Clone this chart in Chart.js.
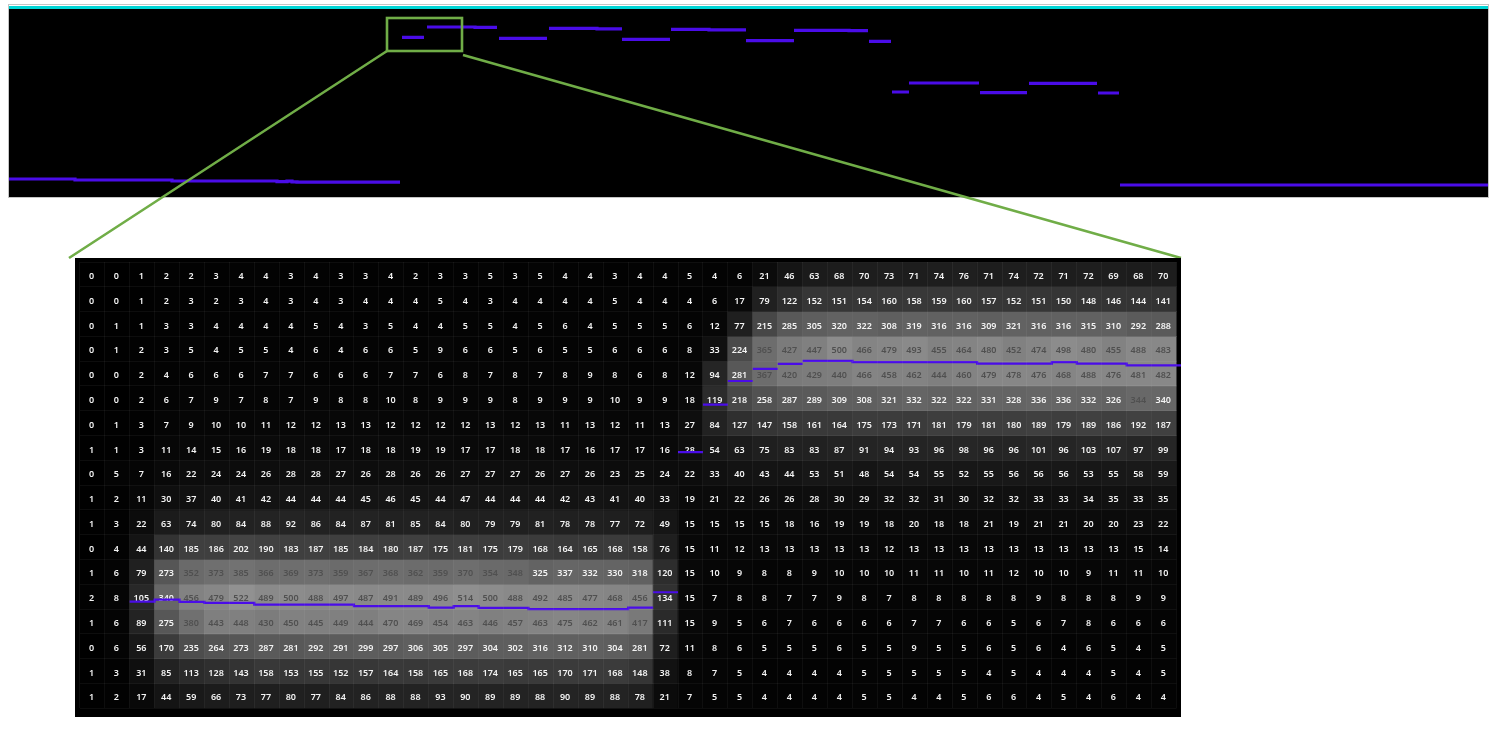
<!DOCTYPE html>
<html>
<head>
<meta charset="utf-8">
<style>
    body { margin: 0; background: #fff; }
    canvas { position: absolute; filter: blur(0.6px); }
    #traceChart { left: 0; top: 0; z-index: 1; }
    #heatChart { left: 75px; top: 258px; z-index: 2; }
</style>
<script src="https://cdn.jsdelivr.net/npm/chart.js@4"></script>
</head>
<body>
<canvas id="traceChart" width="1502" height="735"></canvas>
<canvas id="heatChart" width="1106" height="459"></canvas>
<script>
// top strip: sample along the sensor, level of the detected line (null = no line)
const traceSamples = [
    0, 66, 66, 163, 163, 268, 268, 278, 278, 283, 283, 288, 288, 391, 391,
    393, 415, 415, 418, 466, 466, 488, 490, 490, 538, 540, 540, 588, 588, 613, 613,
    613, 661, 661, 662, 700, 700, 737, 737,
    737, 785, 785, 785, 840, 840, 859, 860,
    860, 882, 883,
    883, 900, 900, 900, 970, 971,
    971, 1018, 1020, 1020, 1088, 1089,
    1089, 1110, 1111,
    1111, 1479
];
const traceLevels = [
    18, 18, 17, 17, 16, 16, 15.4, 15.4, 15.9, 15.9, 15.2, 15.2, 14.8, 14.8, null,
    159.7, 159.7, null, 170, 170, 169.7, 169.7, null, 158.7, 158.7, null, 168.7, 168.7, 168.2, 168.2, null,
    157.7, 157.7, null, 167.7, 167.7, 167.2, 167.2, null,
    156.3, 156.3, null, 166.7, 166.7, 166.4, 166.4, null,
    155.7, 155.7, null,
    105, 105, null, 114, 114, null,
    104.3, 104.3, null, 113.7, 113.7, null,
    104, 104, null,
    12, 12
];
const ceilingSamples = [0, 1479];
const ceilingLevels = [189.5, 189.5];

// green box on the strip that marks the zoomed part
const zoomSamples = [378, 453];
const zoomLevels = [146, 179];

// zoomed pixels: 18 rows, 44 columns
const columns = [
    0, 1, 2, 3, 4, 5, 6, 7, 8, 9, 10, 11, 12, 13, 14, 15, 16, 17, 18, 19, 20, 21,
    22, 23, 24, 25, 26, 27, 28, 29, 30, 31, 32, 33, 34, 35, 36, 37, 38, 39, 40, 41, 42, 43
];
const heatRows = [
    [0,0,1,2,2,3,4,4,3,4,3,3,4,2,3,3,5,3,5,4,4,3,4,4,5,4,6,21,46,63,68,70,73,71,74,76,71,74,72,71,72,69,68,70],
    [0,0,1,2,3,2,3,4,3,4,3,4,4,4,5,4,3,4,4,4,4,5,4,4,4,6,17,79,122,152,151,154,160,158,159,160,157,152,151,150,148,146,144,141],
    [0,1,1,3,3,4,4,4,4,5,4,3,5,4,4,5,5,4,5,6,4,5,5,5,6,12,77,215,285,305,320,322,308,319,316,316,309,321,316,316,315,310,292,288],
    [0,1,2,3,5,4,5,5,4,6,4,6,6,5,9,6,6,5,6,5,5,6,6,6,8,33,224,365,427,447,500,466,479,493,455,464,480,452,474,498,480,455,488,483],
    [0,0,2,4,6,6,6,7,7,6,6,6,7,7,6,8,7,8,7,8,9,8,6,8,12,94,281,367,420,429,440,466,458,462,444,460,479,478,476,468,488,476,481,482],
    [0,0,2,6,7,9,7,8,7,9,8,8,10,8,9,9,9,8,9,9,9,10,9,9,18,119,218,258,287,289,309,308,321,332,322,322,331,328,336,336,332,326,344,340],
    [0,1,3,7,9,10,10,11,12,12,13,13,12,12,12,12,13,12,13,11,13,12,11,13,27,84,127,147,158,161,164,175,173,171,181,179,181,180,189,179,189,186,192,187],
    [1,1,3,11,14,15,16,19,18,18,17,18,18,19,19,17,17,18,18,17,16,17,17,16,28,54,63,75,83,83,87,91,94,93,96,98,96,96,101,96,103,107,97,99],
    [0,5,7,16,22,24,24,26,28,28,27,26,28,26,26,27,27,27,26,27,26,23,25,24,22,33,40,43,44,53,51,48,54,54,55,52,55,56,56,56,53,55,58,59],
    [1,2,11,30,37,40,41,42,44,44,44,45,46,45,44,47,44,44,44,42,43,41,40,33,19,21,22,26,26,28,30,29,32,32,31,30,32,32,33,33,34,35,33,35],
    [1,3,22,63,74,80,84,88,92,86,84,87,81,85,84,80,79,79,81,78,78,77,72,49,15,15,15,15,18,16,19,19,18,20,18,18,21,19,21,21,20,20,23,22],
    [0,4,44,140,185,186,202,190,183,187,185,184,180,187,175,181,175,179,168,164,165,168,158,76,15,11,12,13,13,13,13,13,12,13,13,13,13,13,13,13,13,13,15,14],
    [1,6,79,273,352,373,385,366,369,373,359,367,368,362,359,370,354,348,325,337,332,330,318,120,15,10,9,8,8,9,10,10,10,11,11,10,11,12,10,10,9,11,11,10],
    [2,8,105,340,456,479,522,489,500,488,497,487,491,489,496,514,500,488,492,485,477,468,456,134,15,7,8,8,7,7,9,8,7,8,8,8,8,8,9,8,8,8,9,9],
    [1,6,89,275,380,443,448,430,450,445,449,444,470,469,454,463,446,457,463,475,462,461,417,111,15,9,5,6,7,6,6,6,6,7,7,6,6,5,6,7,8,6,6,6],
    [0,6,56,170,235,264,273,287,281,292,291,299,297,306,305,297,304,302,316,312,310,304,281,72,11,8,6,5,5,5,6,5,5,9,5,5,6,5,6,4,6,5,4,5],
    [1,3,31,85,113,128,143,158,153,155,152,157,164,158,165,168,174,165,165,170,171,168,148,38,8,7,5,4,4,4,4,5,5,5,5,5,4,5,4,4,4,5,4,5],
    [1,2,17,44,59,66,73,77,80,77,84,86,88,88,93,90,89,89,88,90,89,88,78,21,7,5,5,4,4,4,4,5,5,4,4,5,6,6,4,5,4,6,4,4]
];
// detected line inside the zoom: row position for each column
const lineRows = [
    null, null, 13.70, 13.62, 13.71, 13.75, 13.75, 13.82, 13.82, 13.82, 13.82,
    13.88, 13.88, 13.88, 13.94, 13.88, 13.95, 13.95, 14.00, 14.00, 14.00, 14.00,
    13.94, 13.32, 7.67, 5.75, 4.80, 4.31, 4.11, 3.99, 3.99, 4.04, 4.04, 4.04, 4.04, 4.04,
    4.10, 4.10, 4.10, 4.04, 4.10, 4.10, 4.17, 4.17
];

const purple = '#4a0ce8';
const green = '#70ad47';
const dimTextFrom = 341;

function cellGray(v) {
    const g = Math.round(140 * Math.pow(v / 500, 0.8));
    return 'rgb(' + g + ',' + g + ',' + g + ')';
}

const linePoints = [];
lineRows.forEach(function (r, c) {
    if (r === null) return;
    linePoints.push({ x: c, y: r }, { x: c + 1, y: r });
    // break the jumps, the small ones just touch
    const next = lineRows[c + 1];
    if (next !== undefined && Math.abs(next - r) > 0.12) linePoints.push({ x: c + 1, y: null });
});
linePoints[linePoints.length - 1].x = 44.18;

const cellText = {
    id: 'cellText',
    beforeDraw(chart) {
        chart.ctx.fillStyle = '#000';
        chart.ctx.fillRect(0, 0, chart.width, chart.height);
    },
    afterDatasetDraw(chart, args) {
        if (args.index !== 0) return;
        const ctx = chart.ctx;
        const x = chart.scales.x;
        const y = chart.scales.y;
        ctx.save();
        ctx.font = '600 9px "Noto Sans"';
        ctx.textAlign = 'center';
        ctx.textBaseline = 'middle';
        heatRows.forEach(function (row, r) {
            row.forEach(function (v, c) {
                ctx.fillStyle = v >= dimTextFrom ? '#505050' : '#f4f4f4';
                ctx.fillText(String(v), x.getPixelForValue(c) - 0.8, y.getPixelForValue(r + 0.5) + 2);
            });
        });
        ctx.restore();
    }
};

const heatDatasets = heatRows.map(function (row, r) {
    return {
        data: row.map(function () { return [r, r + 1]; }),
        backgroundColor: row.map(cellGray),
        grouped: false,
        barPercentage: 1,
        categoryPercentage: 1,
        borderWidth: 0
    };
});
heatDatasets.push({
    type: 'scatter',
    data: linePoints,
    xAxisID: 'xLine',
    yAxisID: 'y',
    showLine: true,
    spanGaps: false,
    borderColor: purple,
    borderWidth: 2.2,
    pointRadius: 0,
    order: -1,
    clip: false
});

const heatChart = new Chart(document.getElementById('heatChart').getContext('2d'), {
    type: 'bar',
    data: { labels: columns, datasets: heatDatasets },
    plugins: [cellText],
    options: {
        responsive: false,
        animation: false,
        layout: { padding: { left: 4.8, right: 4.5, top: 4, bottom: 8.7 } },
        plugins: { legend: { display: false }, tooltip: { enabled: false } },
        scales: {
            x: {
                ticks: { display: false, autoSkip: false },
                grid: { color: 'rgba(255,255,255,0.05)', drawTicks: false, z: 1 },
                border: { display: false }
            },
            xLine: { type: 'linear', display: false, offset: false, min: 0, max: 44 },
            y: {
                reverse: true,
                min: 0,
                max: 18,
                ticks: { display: false, stepSize: 1 },
                grid: { color: 'rgba(255,255,255,0.05)', drawTicks: false, z: 1 },
                border: { display: false }
            }
        }
    }
});

const stripFrame = {
    id: 'stripFrame',
    beforeDatasetsDraw(chart) {
        const ctx = chart.ctx;
        const a = chart.chartArea;
        const floor = chart.scales.y.getPixelForValue(0);
        const roof = chart.scales.y.getPixelForValue(188);
        ctx.save();
        ctx.strokeStyle = '#c4c4c4';
        ctx.lineWidth = 1;
        ctx.strokeRect(a.left - 0.5, a.top - 0.5, a.right - a.left + 1, floor - a.top + 1);
        ctx.fillStyle = '#000';
        ctx.fillRect(a.left, roof, a.right - a.left, floor - roof);
        ctx.restore();
    },
    afterDatasetsDraw(chart) {
        const ctx = chart.ctx;
        const x = chart.scales.x;
        const y = chart.scales.y;
        const left = x.getPixelForValue(zoomSamples[0]);
        const right = x.getPixelForValue(zoomSamples[1]);
        const top = y.getPixelForValue(zoomLevels[1]);
        const bottom = y.getPixelForValue(zoomLevels[0]);
        const heatBox = heatChart.canvas.getBoundingClientRect();
        ctx.save();
        ctx.strokeStyle = green;
        ctx.lineWidth = 2.6;
        ctx.strokeRect(left, top, right - left, bottom - top);
        ctx.beginPath();
        ctx.moveTo(left, bottom);
        ctx.lineTo(heatBox.left - 6, heatBox.top);
        ctx.moveTo(right + 1, bottom + 4);
        ctx.lineTo(heatBox.right, heatBox.top);
        ctx.stroke();
        ctx.restore();
    }
};

function pointsOf(xs, ys) {
    return xs.map(function (v, i) { return { x: v, y: ys[i] }; });
}

new Chart(document.getElementById('traceChart').getContext('2d'), {
    type: 'scatter',
    data: {
        datasets: [
            {
                data: pointsOf(ceilingSamples, ceilingLevels),
                showLine: true,
                borderColor: '#00d4d4',
                borderWidth: 3,
                pointRadius: 0
            },
            {
                data: pointsOf(traceSamples, traceLevels),
                showLine: true,
                spanGaps: false,
                borderColor: purple,
                borderWidth: 3.2,
                pointRadius: 0
            }
        ]
    },
    plugins: [stripFrame],
    options: {
        responsive: false,
        animation: false,
        layout: { padding: { left: 9, right: 14, top: 5, bottom: 538 } },
        plugins: { legend: { display: false }, tooltip: { enabled: false } },
        scales: {
            x: { type: 'linear', display: false, min: 0, max: 1479 },
            y: { type: 'linear', display: false, min: 0, max: 192 }
        }
    }
});
</script>
</body>
</html>
